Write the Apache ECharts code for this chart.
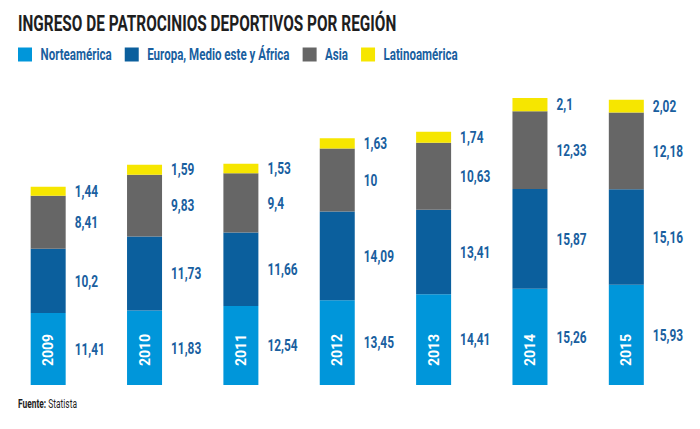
<!DOCTYPE html>
<html><head><meta charset="utf-8">
<script src="https://cdn.jsdelivr.net/npm/echarts@6/dist/echarts.min.js"></script>
<style>
html,body{margin:0;padding:0;background:#fff;overflow:hidden}
#wrap{position:relative;width:700px;height:429px;overflow:hidden}
#c{position:absolute;left:0;top:0;width:1000px;height:429px;transform:scaleX(0.7);transform-origin:0 0}
#y{position:absolute;left:0;top:0;width:700px;height:429px}
</style>
</head><body><div id="wrap"><div id="c"></div><div id="y"></div></div>
<script>
const years = ['2009','2010','2011','2012','2013','2014','2015'];
const norteamerica = [11.41, 11.83, 12.54, 13.45, 14.41, 15.26, 15.93];
const europa = [10.2, 11.73, 11.66, 14.09, 13.41, 15.87, 15.16];
const asia = [8.41, 9.83, 9.4, 10, 10.63, 12.33, 12.18];
const latino = [1.44, 1.59, 1.53, 1.63, 1.74, 2.1, 2.02];
const names = ['Norteamérica', 'Europa, Medio este y África', 'Asia', 'Latinoamérica'];
const colors = ['#0096da', '#0b5f9d', '#666666', '#f6e600'];

const FONT = "Roboto, 'Noto Sans', sans-serif";
const SX = 0.7;            // horizontal condensing of the text-bearing chart
const X = v => v / SX;     // convert 700-space x sizes into the wide canvas
const fmt = v => String(v).replace('.', ',');

function mk(name, data, color) {
  return {
    name, type: 'bar', stack: 'total', data, barWidth: X(35),
    itemStyle: { color },
    label: {
      show: true, position: 'right', distance: X(9),
      formatter: p => fmt(p.value),
      color: '#1a5f9f', fontFamily: FONT, fontWeight: 'bold', fontSize: 17
    }
  };
}

const gridCfg = { left: X(-12.5), width: X(687), top: 70, bottom: 44 };

const chart = echarts.init(document.getElementById('c'), null, { renderer: 'svg' });
chart.setOption({
  animation: false,
  title: {
    text: 'INGRESO DE PATROCINIOS DEPORTIVOS POR REGIÓN',
    left: X(18), top: 12, padding: 0,
    textStyle: { fontFamily: FONT, fontWeight: 'bold', fontSize: 22, color: '#1e1e1e' }
  },
  legend: {
    left: X(18), top: 46, padding: 0, itemWidth: X(14), itemHeight: 14, itemGap: X(13), icon: 'rect',
    textStyle: { fontFamily: FONT, fontWeight: 'bold', fontSize: 16.5, color: '#1a5f9f', padding: [0,0,0,X(5)] }
  },
  graphic: [{
    type: 'text', left: X(18), top: 398,
    style: { text: '{b|Fuente:} Statista', fontFamily: FONT, fontSize: 12, fill: '#1e1e1e',
      rich: { b: { fontFamily: FONT, fontWeight: 'bold', fontSize: 12, color: '#1e1e1e' } } }
  }],
  grid: gridCfg,
  xAxis: {
    type: 'category', data: years,
    axisLine: { show: false }, axisTick: { show: false }, axisLabel: { show: false }
  },
  yAxis: { type: 'value', min: 0, max: 50, show: false, splitLine: { show: false } },
  series: [
    mk(names[0], norteamerica, colors[0]),
    mk(names[1], europa, colors[1]),
    mk(names[2], asia, colors[2]),
    mk(names[3], latino, colors[3])
  ]
});

// Year labels drawn by an unscaled overlay sharing the same axis geometry
const yc = echarts.init(document.getElementById('y'), null, { renderer: 'svg' });
yc.setOption({
  animation: false,
  grid: { left: -12.5, width: 687, top: 70, bottom: 44 },
  xAxis: {
    type: 'category', data: years,
    axisLine: { show: false }, axisTick: { show: false },
    axisLabel: { inside: true, rotate: 90, margin: 19, color: '#ffffff', fontFamily: FONT, fontWeight: 'bold', fontSize: 14 }
  },
  yAxis: { type: 'value', min: 0, max: 50, show: false, splitLine: { show: false } },
  series: []
});
</script></body></html>
